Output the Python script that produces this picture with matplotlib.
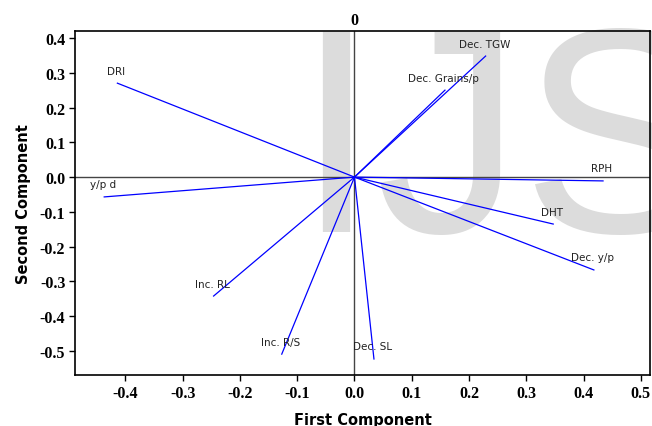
import matplotlib
matplotlib.use("Agg")
import matplotlib.pyplot as plt

traits = ["DRI", "y/p d", "Dec. TGW", "Dec. Grains/p", "RPH", "DHT",
          "Dec. y/p", "Dec. SL", "Inc. R/S", "Inc. RL"]
pc1 = [-0.414, -0.437, 0.229, 0.158, 0.434, 0.347, 0.418, 0.034, -0.127, -0.246]
pc2 = [0.270, -0.057, 0.348, 0.250, -0.011, -0.135, -0.267, -0.523, -0.509, -0.342]
xticks = [-0.4, -0.3, -0.2, -0.1, 0.0, 0.1, 0.2, 0.3, 0.4, 0.5]
yticks = [0.4, 0.3, 0.2, 0.1, 0.0, -0.1, -0.2, -0.3, -0.4, -0.5]

fig = plt.figure(figsize=(6.52, 4.27), dpi=100)
ax = fig.add_axes([75/652, 51/427, 575/652, 344/427])
ax.set_facecolor("none")
ax.set_xlim(-0.488, 0.516)
ax.set_ylim(-0.569, 0.42)

# watermark
ax.text(295/652, 1 - 232/427, "IJS", transform=fig.transFigure,
        fontsize=210, family="Liberation Sans", color="#dcdcdc",
        ha="left", va="baseline", zorder=0.5, clip_on=False)

ax.axhline(0, color="#444444", lw=1.0, zorder=1)
ax.axvline(0, color="#444444", lw=1.0, zorder=1)

for name, x, y in zip(traits, pc1, pc2):
    ax.plot([0, x], [0, y], color="#0000ff", lw=0.9, zorder=2)
    ax.annotate(name, (x, y), xytext=(-1, 9), textcoords="offset points",
                ha="center", va="center", fontsize=7.5, color="#222222",
                family="DejaVu Sans", zorder=3)

ax.set_xticks(xticks)
ax.set_yticks(yticks)
ax.set_xticklabels([f"{v:.1f}" for v in xticks])
ax.set_yticklabels([f"{v:.1f}" for v in yticks])
for lab in ax.get_xticklabels() + ax.get_yticklabels():
    lab.set_family("Liberation Serif")
    lab.set_fontweight("bold")
    lab.set_fontsize(11.5)
ax.tick_params(direction="out", length=4, width=1, pad=3)
for s in ax.spines.values():
    s.set_linewidth(1.2)
    s.set_color("black")

ax.set_xlabel("First Component", fontsize=10.5, fontweight="bold",
              family="DejaVu Sans", labelpad=8)
ax.set_ylabel("Second Component", fontsize=10.5, fontweight="bold",
              family="DejaVu Sans", labelpad=6)

ax.text(0, 1.01, "0", transform=ax.get_xaxis_transform(), ha="center",
        va="bottom", fontsize=11.5, fontweight="bold", family="Liberation Serif")

fig.savefig("out.png", dpi=100)
